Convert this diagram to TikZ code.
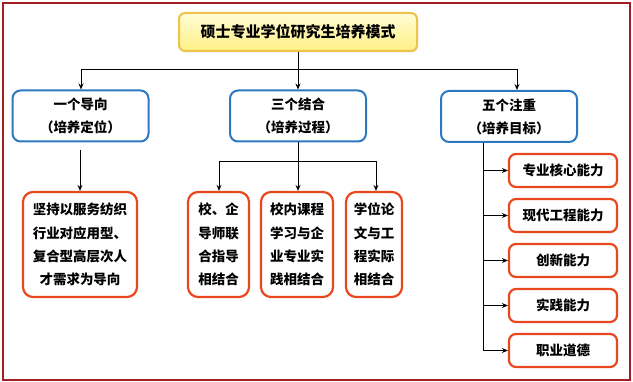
\documentclass[tikz,border=0pt]{standalone}
\usepackage{fontspec}
\setmainfont{Noto Sans CJK SC}
\usetikzlibrary{arrows.meta,shadows}
\definecolor{frame}{HTML}{A31D22}
\definecolor{goldline}{HTML}{EFC24A}
\definecolor{yelA}{HTML}{FFFCD6}
\definecolor{yelB}{HTML}{FFF184}
\definecolor{blueline}{HTML}{2C79BF}
\definecolor{redline}{HTML}{E9481F}
\tikzset{
  titlebox/.style={draw=goldline, line width=2pt, rounded corners=6pt, top color=yelA, bottom color=yelB,
    minimum width=238pt, minimum height=38pt, inner sep=0pt,
    font=\fontsize{15}{18}\selectfont\bfseries,
    drop shadow={shadow xshift=1pt, shadow yshift=-1.5pt, opacity=0.25, fill=gray}},
  bluebox/.style={draw=blueline, line width=2pt, rounded corners=8pt, fill=white,
    minimum width=136pt, minimum height=51pt, inner sep=0pt, align=center,
    font=\fontsize{13.5}{23}\selectfont\bfseries},
  redbox/.style={draw=redline, line width=2.2pt, rounded corners=10pt, fill=white,
    minimum height=105pt, inner sep=0pt, align=center,
    font=\fontsize{13.5}{23.3}\selectfont\bfseries},
  smallbox/.style={draw=redline, line width=2.2pt, rounded corners=7pt, fill=white,
    minimum width=108pt, minimum height=33pt, inner sep=0pt,
    font=\fontsize{13.5}{16}\selectfont\bfseries},
  link/.style={draw=black, line width=0.9pt},
  arr/.style={link, -{Stealth[length=6pt,width=5pt,inset=2pt]}},
}
\begin{document}
\begin{tikzpicture}[x=1pt,y=-1pt]
\useasboundingbox (0,0) rectangle (633,382);
\draw[frame, line width=2.6pt] (3,3) rectangle (630,380);

\node[titlebox] (top) at (298,32) {硕士专业学位研究生培养模式};

\node[bluebox] (b1) at (80.5,116) {一个导向\\（培养定位）};
\node[bluebox] (b2) at (298,116) {三个结合\\（培养过程）};
\node[bluebox] (b3) at (509,116.5) {五个注重\\（培养目标）};

\node[redbox, minimum width=114pt] (rA) at (80,244.5) {坚持以服务纺织\\行业对应用型、\\复合型高层次人\\才需求为导向};
\node[redbox, minimum width=61pt] (rB) at (218.5,244.5) {校、企\\导师联\\合指导\\相结合};
\node[redbox, minimum width=72pt] (rC) at (297,244.5) {校内课程\\学习与企\\业专业实\\践相结合};
\node[redbox, minimum width=56pt] (rD) at (374,244.5) {学位论\\文与工\\程实际\\相结合};

\node[smallbox] (s1) at (563,170.5) {专业核心能力};
\node[smallbox] (s2) at (563,215.5) {现代工程能力};
\node[smallbox] (s3) at (563,260.5) {创新能力};
\node[smallbox] (s4) at (563,305.5) {实践能力};
\node[smallbox] (s5) at (563,350.5) {职业道德};

% top level connectors
\coordinate (hm) at (298,69);
\coordinate (h1) at (81,69);
\coordinate (h3) at (517,69);
\draw[link] (top.south) -- (hm);
\draw[link] (h1) -- (h3);
\draw[arr] (h1) -- (h1 |- b1.north);
\draw[arr] (hm) -- (b2.north);
\draw[arr] (h3) -- (h3 |- b3.north);

% box1 to its goal
\coordinate (v1) at (80,150);
\draw[arr] (v1) -- (rA.north);

% box2 branches
\coordinate (j2) at (298,161);
\coordinate (j2a) at (219,161);
\coordinate (j2d) at (376,161);
\draw[link] (b2.south) -- (j2);
\draw[link] (j2a) -- (j2d);
\draw[arr] (j2a) -- (j2a |- rB.north);
\draw[arr] (j2) -- (j2 |- rC.north);
\draw[arr] (j2d) -- (j2d |- rD.north);

% box3 branches
\coordinate (t3) at (483,141);
\coordinate (e3) at (483,350.5);
\draw[link] (t3 |- b3.south) -- (e3);
\foreach \s in {s1,s2,s3,s4,s5}{
  \draw[arr] (t3 |- \s.west) -- (\s.west);
}
\end{tikzpicture}
\end{document}
